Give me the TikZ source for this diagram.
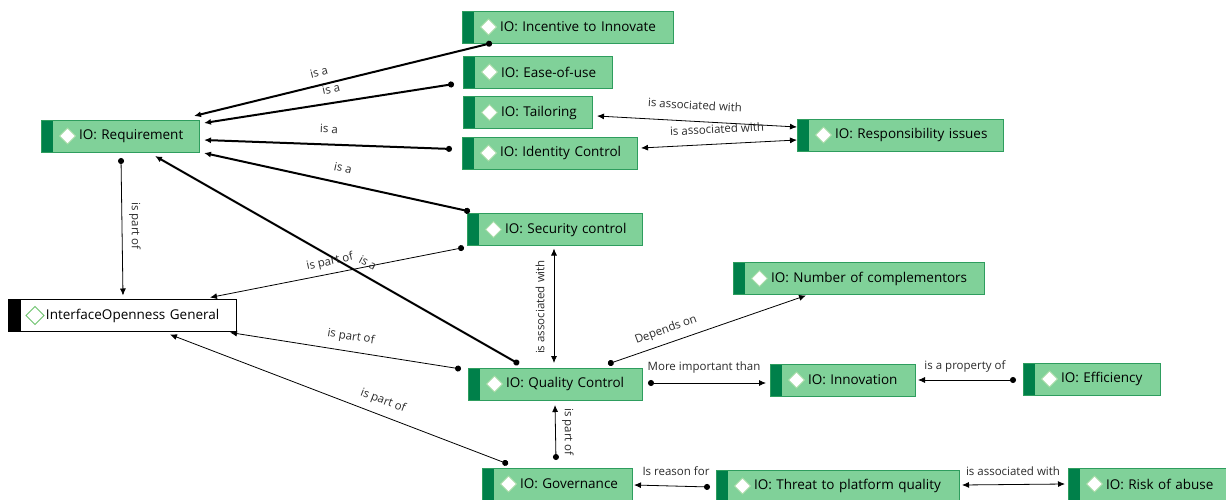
\documentclass[tikz,border=0pt]{standalone}
\usepackage{fontspec}
\setmainfont{Open Sans}
\usetikzlibrary{arrows.meta}

\definecolor{iofill}{HTML}{80D199}
\definecolor{ioedge}{HTML}{2E9D5E}
\definecolor{iostripe}{HTML}{00804A}
\definecolor{diaedge}{HTML}{A6DBA6}
\definecolor{gendia}{HTML}{6CC26C}
\definecolor{lbl}{HTML}{2A2A2A}

\tikzset{
  cbox/.style={draw=ioedge, fill=iofill, line width=0.8pt, minimum height=32pt,
    inner xsep=0pt, inner ysep=0pt, outer sep=0pt, anchor=west, align=left,
    font=\fontsize{13.5}{15}\selectfont, text=black,
    execute at begin node={\hspace*{38pt}},
    path picture={
      \fill[iostripe] (path picture bounding box.south west)
        rectangle ([xshift=12pt]path picture bounding box.north west);
      \draw[fill=white, draw=diaedge, line width=0.8pt]
        ([xshift=26.5pt]path picture bounding box.west)
        +(-8pt,0) -- +(0,8pt) -- +(8pt,0) -- +(0,-8pt) -- cycle;
    }},
  genbox/.style={cbox, draw=black, fill=white,
    path picture={
      \fill[black] (path picture bounding box.south west)
        rectangle ([xshift=13pt]path picture bounding box.north west);
      \draw[draw=gendia, line width=1pt]
        ([xshift=27pt]path picture bounding box.west)
        +(-9pt,0) -- +(0,9pt) -- +(9pt,0) -- +(0,-9pt) -- cycle;
    }},
  rel/.style={draw=black, line width=0.8pt,
    {Circle[length=6pt]}-{Latex[length=7pt,width=6pt]}},
  isa/.style={rel, line width=2pt},
  both/.style={draw=black, line width=0.8pt,
    {Latex[length=7pt,width=6pt]}-{Latex[length=7pt,width=6pt]}},
  lab/.style={font=\fontsize{11.5}{13}\selectfont, text=lbl, inner sep=0.5pt},
}

\begin{document}
\begin{tikzpicture}[x=1pt,y=-1pt]
\useasboundingbox (0,0) rectangle (1226,500);

% concept boxes
\node[cbox, text width=211pt] (inc)  at (462,27)    {IO: Incentive to Innovate};
\node[cbox, text width=149pt] (ease) at (463,72)    {IO: Ease-of-use};
\node[cbox, text width=129pt] (tail) at (463,112.5) {IO: Tailoring};
\node[cbox, text width=175pt] (idc)  at (462,153)   {IO: Identity Control};
\node[cbox, text width=206pt] (resp) at (797,135)   {IO: Responsibility issues};
\node[cbox, text width=158pt] (req)  at (41,136)    {IO: Requirement};
\node[cbox, text width=175pt] (sec)  at (467,229.5) {IO: Security control};
\node[genbox, text width=228pt] (iog) at (8,315.5)  {InterfaceOpenness General};
\node[cbox, text width=251pt] (num)  at (733,278.5) {IO: Number of complementors};
\node[cbox, text width=174pt] (qc)   at (468,384)   {IO: Quality Control};
\node[cbox, text width=145pt] (inn)  at (770,380)   {IO: Innovation};
\node[cbox, text width=137pt] (eff)  at (1023,379)  {IO: Efficiency};
\node[cbox, text width=150pt] (gov)  at (482,484)   {IO: Governance};
\node[cbox, text width=243pt] (thr)  at (716,486)   {IO: Threat to platform quality};
\node[cbox, text width=170pt] (risk) at (1068,484)  {IO: Risk of abuse};

% "is a" relations towards the requirement
\draw[isa] ([xshift=30pt]inc.south west) -- ([xshift=-5pt,yshift=4pt]req.north east);
\draw[isa] ([xshift=-9pt,yshift=4pt]ease.south west) -- ([xshift=5pt,yshift=-3pt]req.north east);
\draw[isa] ([xshift=-10pt,yshift=4pt]idc.west) -- ([xshift=5pt,yshift=-4pt]req.east);
\draw[isa] ([xshift=3pt,yshift=2pt]sec.north west) -- ([xshift=5pt,yshift=-1pt]req.south east);
\draw[isa] ([xshift=51pt,yshift=4pt]qc.north west) -- ([xshift=114pt,yshift=-4pt]req.south west);

% "is part of" relations towards the general node
\draw[rel] ([xshift=80pt,yshift=-6pt]req.south west) -- ([xshift=115pt,yshift=4pt]iog.north west);
\draw[rel] ([xshift=-3pt,yshift=-2pt]sec.south west) -- ([xshift=202pt,yshift=2pt]iog.north west);
\draw[rel] ([xshift=-7pt,yshift=15pt]qc.west) -- ([xshift=-6pt,yshift=-1pt]iog.south east);
\draw[rel] ([xshift=26pt,yshift=4pt]gov.north west) -- ([xshift=162pt,yshift=-3pt]iog.south west);

% other relations
\draw[both] ([xshift=87pt,yshift=-3pt]sec.south west) -- ([xshift=86pt,yshift=5pt]qc.north west);
\draw[rel] ([xshift=74pt,yshift=8pt]gov.north west) -- ([xshift=87pt,yshift=-5pt]qc.south west);
\draw[rel] ([xshift=140pt,yshift=4pt]qc.north west) -- ([xshift=73pt,yshift=-1pt]num.south west);
\draw[rel] ([xshift=6pt,yshift=1pt]qc.east) -- ([xshift=-4pt,yshift=-3pt]inn.west);
\draw[rel] ([xshift=-7pt,yshift=-1pt]eff.west) -- ([xshift=3pt]inn.east);
\draw[rel] ([xshift=-6pt,yshift=-1pt]thr.west) -- ([xshift=2pt,yshift=-1pt]gov.east);
\draw[both] ([xshift=3pt,yshift=1pt]thr.east) -- ([xshift=-3pt]risk.west);
\draw[both] ([xshift=5pt,yshift=-3.5pt]tail.east) -- ([yshift=8pt]resp.west);
\draw[both] ([xshift=4pt,yshift=5pt]idc.east) -- ([yshift=-5pt]resp.west);

% relation labels
\node[lab, rotate=14]  (l1)  at (319,72)  {is a};
\node[lab, rotate=12]  (l2)  at (331,89)  {is a};
\node[lab, rotate=-2]  (l3)  at (329,129) {is a};
\node[lab, rotate=-12] (l4)  at (343,168) {is a};
\node[lab, rotate=-28] (l5)  at (368,263) {is a};
\node[lab, rotate=-90] (l6)  at (135,226) {is part of};
\node[lab, rotate=12]  (l7)  at (330,262) {is part of};
\node[lab, rotate=-9]  (l8)  at (351,337) {is part of};
\node[lab, rotate=-21] (l9)  at (383,401) {is part of};
\node[lab, rotate=90]  (l10) at (540,307) {is associated with};
\node[lab, rotate=-90] (l11) at (568,432) {is part of};
\node[lab, rotate=20]  (l12) at (666,330) {Depends on};
\node[lab]             (l13) at (704,368) {More important than};
\node[lab]             (l14) at (965,366) {is a property of};
\node[lab]             (l15) at (676,471) {Is reason for};
\node[lab]             (l16) at (1013,471) {is associated with};
\node[lab, rotate=-3]  (l17) at (695,105) {is associated with};
\node[lab, rotate=3]   (l18) at (717,129) {is associated with};
\end{tikzpicture}
\end{document}
